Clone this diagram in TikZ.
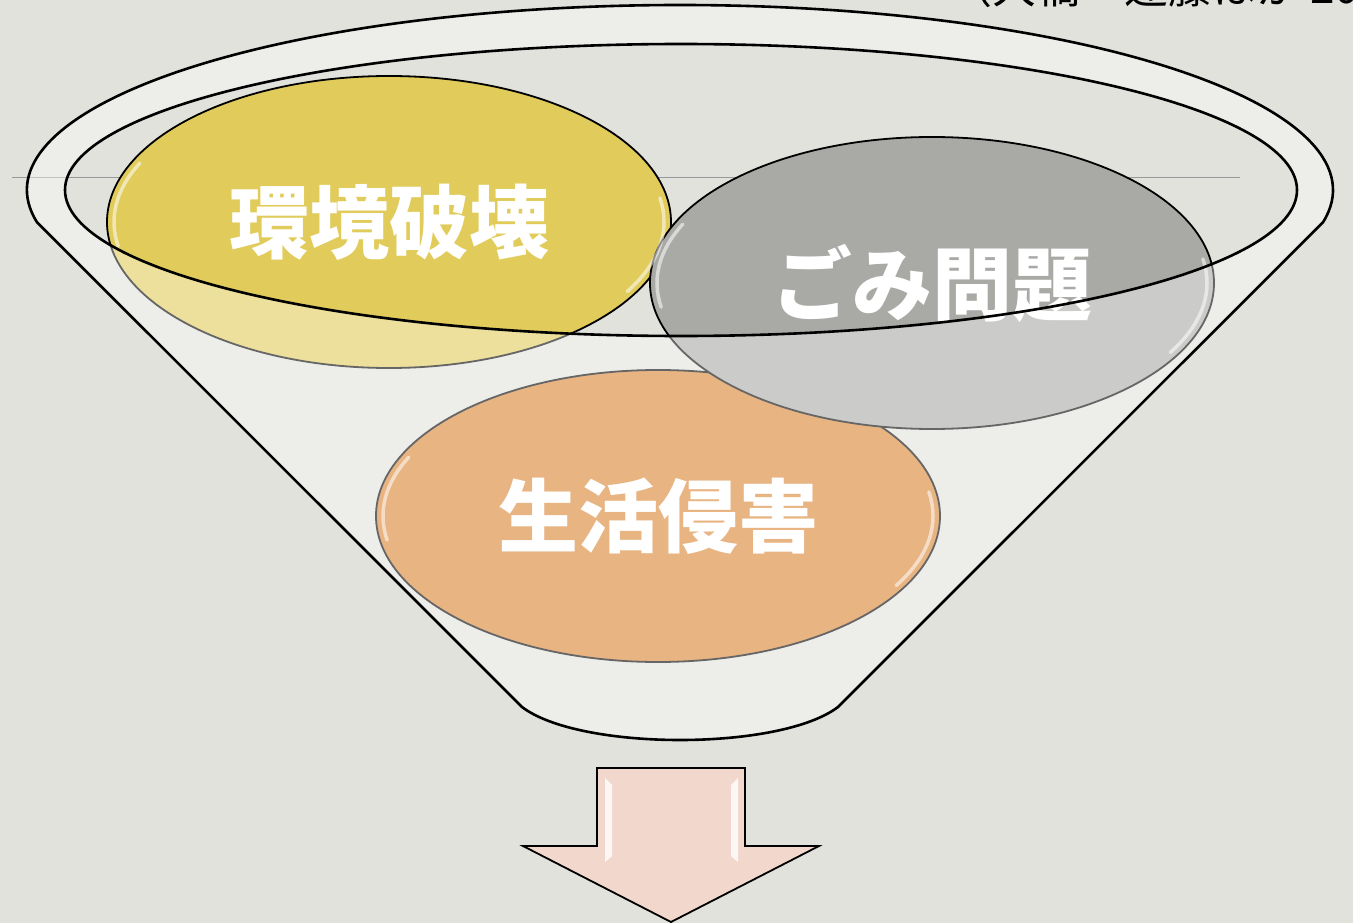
\documentclass[tikz,border=0pt]{standalone}
\usepackage{fontspec}
\usepackage{tikz}
\usepackage{xcolor}
\usetikzlibrary{shapes.geometric}
\newfontfamily\jpfont{Noto Sans CJK JP}
\definecolor{slide-bg}{HTML}{E1E2DC}
\definecolor{ball-yellow}{HTML}{E1CB5A}
\definecolor{ball-grey}{HTML}{A9AAA5}
\definecolor{ball-orange}{HTML}{D9822F}
\definecolor{arrow-pink}{HTML}{F2D8CC}
\tikzset{
    ball/.style = {draw=black, ellipse, line width=1.8pt, minimum width=564pt, minimum height=292pt, inner sep=0pt, text=white, font=\jpfont\bfseries\fontsize{80}{80}\selectfont},
    gloss-arc/.style = {draw=white, line width=3.5pt, line cap=round, opacity=0.55},
    funnel-line/.style = {draw=black, line width=2.6pt},
    down-arrow/.style = {draw=black, line width=1.8pt, fill=arrow-pink},
}

\begin{document}
\begin{tikzpicture}[x=1pt, y=1pt]
\useasboundingbox[fill=slide-bg] (0,0) rectangle (1353,-923);
% source note, cut off by the top edge
\node[anchor=base west, inner sep=0pt, font=\jpfont\fontsize{44}{44}\selectfont] (source) at (948,-4) {（大橋・遠藤ほか 20};
\draw[black!40, line width=1pt] (12,-178) -- (1240,-178);
% the three balls
\node[ball, fill=ball-orange] (orange) at (658,-516) {生活侵害};
\node[ball, fill=ball-yellow] (yellow) at (389,-222) {環境破壊};
\node[ball, fill=ball-grey] (grey) at (932,-283) {ごみ問題};
\foreach \b in {yellow,grey,orange}{
    \begin{scope}[shift={(\b.center)}]
        \draw[gloss-arc] (155:275 and 139) arc[start angle=155, end angle=190, x radius=275, y radius=139];
        \draw[gloss-arc] (-30:275 and 139) arc[start angle=-30, end angle=10, x radius=275, y radius=139];
    \end{scope}
}
% funnel, seen through
\coordinate (rim) at (680,-190);
\coordinate (throat-l) at (522,-707);
\coordinate (throat-r) at (838,-707);
\path[funnel-line, fill=white, fill opacity=0.4, even odd rule]
    ([shift={(190:653 and 185)}]rim) arc[start angle=190, end angle=-10, x radius=653, y radius=185]
    -- (throat-r) .. controls (780,-751) and (580,-751) .. (throat-l) -- cycle
    (681,-190) ellipse[x radius=616, y radius=146];
% arrow below
\draw[down-arrow] (597,-768) -- (745,-768) -- (745,-846) -- (819,-846) -- (671,-922) -- (523,-846) -- (597,-846) -- cycle;
\fill[white, opacity=0.8] (605,-778) -- (612,-785) -- (612,-856) -- (605,-862) -- cycle;
\fill[white, opacity=0.8] (738,-778) -- (731,-785) -- (731,-856) -- (738,-862) -- cycle;
\end{tikzpicture}
\end{document}
